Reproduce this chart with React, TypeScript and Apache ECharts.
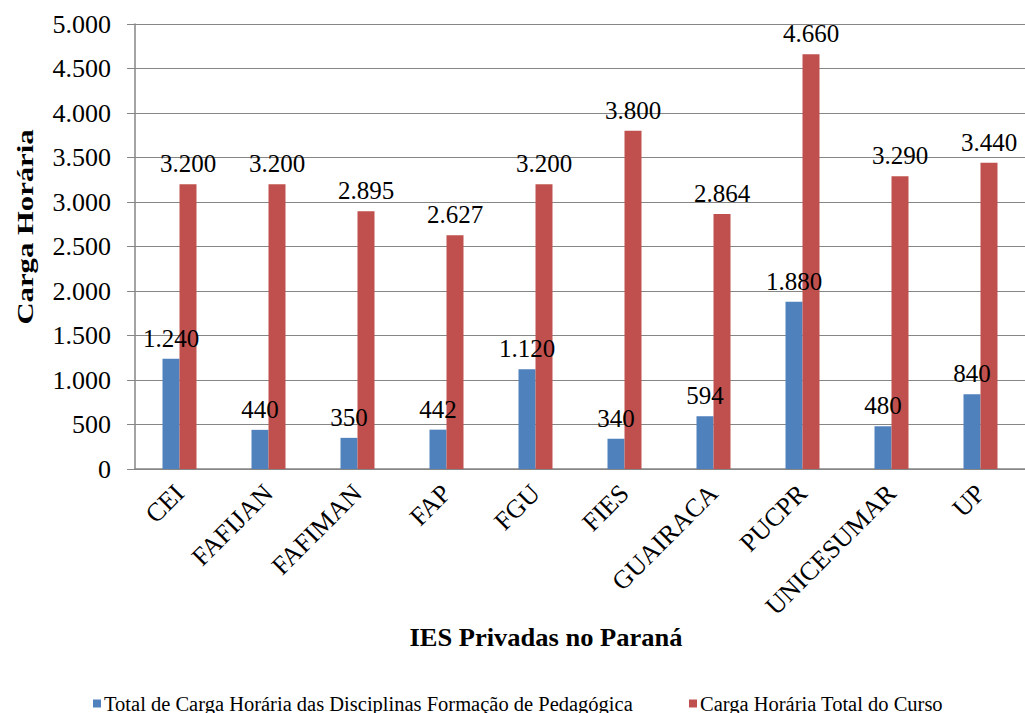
import React, { useEffect, useRef } from "react";
import * as echarts from "echarts";

const categories = ["CEI", "FAFIJAN", "FAFIMAN", "FAP", "FGU", "FIES", "GUAIRACA", "PUCPR", "UNICESUMAR", "UP"];
const pedagogica = [1240, 440, 350, 442, 1120, 340, 594, 1880, 480, 840];
const totalCurso = [3200, 3200, 2895, 2627, 3200, 3800, 2864, 4660, 3290, 3440];
const seriesNames = [
  "Total de Carga Horária das Disciplinas Formação de Pedagógica",
  "Carga Horária Total do Curso",
];
const yTitle = "Carga Horária";
const xTitle = "IES Privadas no Paraná";

const fmt = (v: number) => String(v).replace(/\B(?=(\d{3})+(?!\d))/g, ".");
const FONT = "Liberation Serif";

export default function App() {
  const ref = useRef<HTMLDivElement>(null);
  useEffect(() => {
    if (!ref.current) return;
    const chart = echarts.init(ref.current, null, { renderer: "svg" });
    const labelStyle = {
      show: true,
      position: "top" as const,
      distance: 8,
      formatter: (p: any) => fmt(p.value),
      fontFamily: FONT,
      fontSize: 25,
      color: "#000",
    };
    const legendText = { fontFamily: FONT, fontSize: 20.5, color: "#000", padding: [0, 0, 0, -2] };
    chart.setOption({
      animation: false,
      backgroundColor: "#fff",
      textStyle: { fontFamily: FONT },
      grid: { left: 135, top: 24, width: 896, height: 445, containLabel: false },
      legend: [
        {
          data: [seriesNames[0]],
          left: 93,
          top: 693,
          padding: 0,
          itemWidth: 8,
          itemHeight: 8,
          icon: "rect",
          textStyle: legendText,
        },
        {
          data: [seriesNames[1]],
          left: 689,
          top: 693,
          padding: 0,
          itemWidth: 8,
          itemHeight: 8,
          icon: "rect",
          textStyle: legendText,
        },
      ],
      xAxis: {
        type: "category",
        data: categories,
        axisLine: { lineStyle: { color: "#868686", width: 1.5 } },
        axisTick: { show: false },
        axisLabel: {
          rotate: 45,
          interval: 0,
          margin: 20,
          fontFamily: FONT,
          fontSize: 26,
          color: "#000",
        },
      },
      yAxis: {
        type: "value",
        min: 0,
        max: 5000,
        interval: 500,
        axisLine: { show: true, lineStyle: { color: "#868686", width: 1.5 } },
        axisTick: { show: true, length: 8, lineStyle: { color: "#868686" } },
        splitLine: { lineStyle: { color: "#868686", width: 1.2 } },
        axisLabel: {
          formatter: (v: number) => fmt(v),
          margin: 24,
          fontFamily: FONT,
          fontSize: 26,
          color: "#000",
        },
      },
      series: [
        {
          name: seriesNames[0],
          type: "bar",
          data: pedagogica,
          barWidth: 17,
          barGap: "0%",
          itemStyle: { color: "#4F81BD" },
          label: labelStyle,
        },
        {
          name: seriesNames[1],
          type: "bar",
          data: totalCurso,
          barWidth: 17,
          itemStyle: { color: "#C0504D" },
          label: labelStyle,
        },
      ],
      graphic: [
        {
          type: "text",
          x: 25,
          y: 227,
          rotation: Math.PI / 2,
          scaleX: 1.28,
          style: {
            text: yTitle,
            fontFamily: FONT,
            fontSize: 24,
            fontWeight: "bold",
            fill: "#000",
            align: "center",
            verticalAlign: "middle",
          },
        },
        {
          type: "text",
          x: 546,
          y: 638,
          scaleX: 1.06,
          style: {
            text: xTitle,
            fontFamily: FONT,
            fontSize: 25,
            fontWeight: "bold",
            fill: "#000",
            align: "center",
            verticalAlign: "middle",
          },
        },
      ],
    });
    return () => chart.dispose();
  }, []);
  return (
    <div
      ref={ref}
      style={{ position: "absolute", left: 0, top: 0, width: 1025, height: 713 }}
    />
  );
}
